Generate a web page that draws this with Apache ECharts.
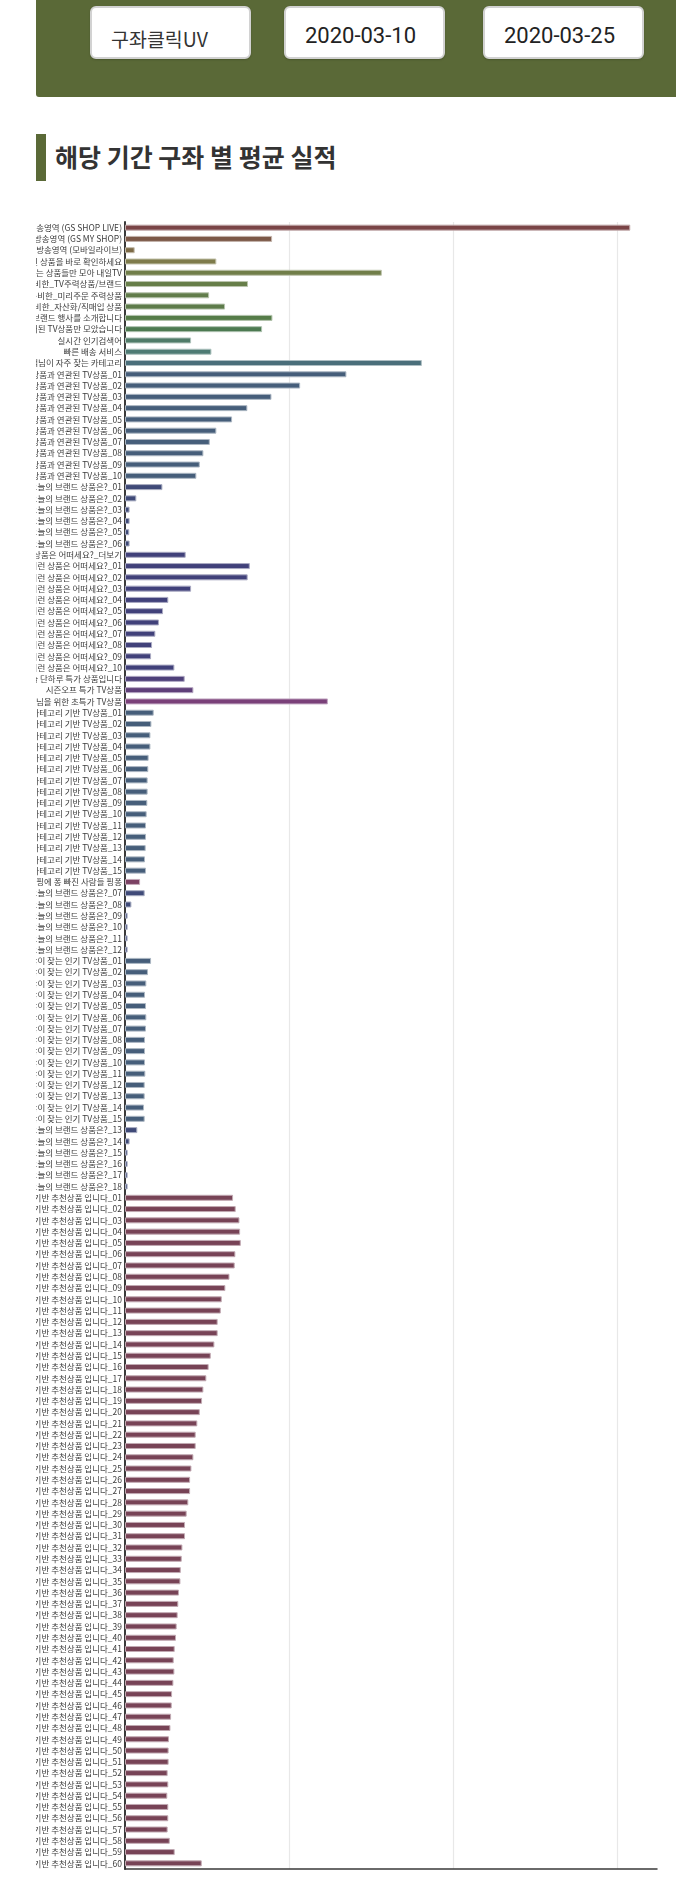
<!DOCTYPE html>
<html><head><meta charset="utf-8">
<script src="https://cdn.jsdelivr.net/npm/echarts@6.0.0/dist/echarts.min.js"></script>
<style>
html,body{margin:0;padding:0;background:#fff;width:676px;height:1896px;overflow:hidden;font-family:'Noto Sans CJK KR','Noto Sans',sans-serif;}
.hdr{position:absolute;left:36px;top:0;width:700px;height:97px;background:#5a6937;border-bottom-left-radius:3px;}
.box{position:absolute;top:6px;height:53px;width:161px;box-sizing:border-box;background:#fff;border:2px solid #d2d2d2;border-radius:6px;box-shadow:0 1px 2px rgba(0,0,0,.18);color:#222;}
.box span{position:absolute;white-space:nowrap;}
.b1 span{left:19px;top:20px;font-size:19.5px;line-height:22px;font-family:'Noto Sans CJK KR',sans-serif;color:#333;}
.bd span{left:0;right:8px;text-align:center;top:16px;font-size:22px;line-height:24px;font-family:Roboto,'Noto Sans',sans-serif;color:#222;}
.tbar{position:absolute;left:36px;top:134px;width:10px;height:47px;background:#5a6937;}
.title{position:absolute;left:55px;top:140px;font-size:25px;line-height:33px;font-weight:bold;color:#333;font-family:'Noto Sans CJK KR',sans-serif;white-space:nowrap;}
#chart{position:absolute;left:36px;top:200px;width:640px;height:1696px;}
</style></head>
<body>
<div class="hdr"></div>
<div class="box b1" style="left:90px"><span>구좌클릭UV</span></div>
<div class="box bd" style="left:284px"><span>2020-03-10</span></div>
<div class="box bd" style="left:483px"><span>2020-03-25</span></div>
<div class="tbar"></div>
<div class="title">해당 기간 구좌 별 평균 실적</div>
<div id="chart"></div>
<script>
function seq(prefix, from, to) {
  var out = [];
  for (var i = from; i <= to; i++) out.push(prefix + (i < 10 ? '0' + i : '' + i));
  return out;
}
// categories (top to bottom)
var topCategories = [
  '생방송영역 (GS SHOP LIVE)', '데이터방송영역 (GS MY SHOP)', '모바일 방송영역 (모바일라이브)',
  '지금 방송중인 상품을 바로 확인하세요', '내일 방송하는 상품들만 모아 내일TV',
  'MD가 준비한_TV주력상품/브랜드', 'MD가 준비한_미리주문 주력상품', 'MD가 준비한_자산화/직매입 상품',
  '오늘의 브랜드 행사를 소개합니다', '방송에서 소개된 TV상품만 모았습니다',
  '실시간 인기검색어', '빠른 배송 서비스', '고객님이 자주 찾는 카테고리'
];
var relatedTV = seq('최근 본 상품과 연관된 TV상품_', 1, 10);
var brandA = seq('오늘의 브랜드 상품은?_', 1, 6);
var recoMore = ['이런 상품은 어떠세요?_더보기'];
var reco = seq('이런 상품은 어떠세요?_', 1, 10);
var specials = ['오늘 단하루 특가 상품입니다', '시즌오프 특가 TV상품', '고객님을 위한 초특가 TV상품'];
var categoryTV = seq('카테고리 기반 TV상품_', 1, 15);
var pingpong = ['쇼핑에 퐁 빠진 사람들 핑퐁'];
var brandB = seq('오늘의 브랜드 상품은?_', 7, 12);
var popularTV = seq('많이 찾는 인기 TV상품_', 1, 15);
var brandC = seq('오늘의 브랜드 상품은?_', 13, 18);
var historyReco = seq('구매이력 기반 추천상품 입니다_', 1, 60);

// values
var topValues = [308.1, 89.7, 5.9, 55.7, 156.6, 75.0, 51.3, 61.0, 89.9, 83.6, 40.3, 52.7, 181.0];
var relatedTVValues = [135.0, 106.8, 89.3, 74.6, 65.3, 55.7, 51.7, 47.8, 45.6, 43.5];
var brandAValues = [22.8, 6.9, 2.8, 2.8, 2.6, 2.8];
var recoMoreValues = [37.0];
var recoValues = [76.1, 74.8, 40.3, 26.4, 23.2, 20.7, 18.5, 16.5, 15.9, 30.1];
var specialsValues = [36.4, 41.7, 123.7];
var categoryTVValues = [17.5, 16.1, 15.5, 15.5, 14.4, 14.2, 13.8, 13.8, 13.6, 13.2, 12.8, 12.8, 12.6, 12.2, 12.8];
var pingpongValues = [9.2];
var brandBValues = [12.0, 3.9, 1.6, 1.6, 1.6, 1.6];
var popularTVValues = [15.9, 14.0, 13.0, 12.2, 12.8, 13.0, 12.8, 12.2, 12.2, 12.2, 12.4, 12.0, 12.0, 11.6, 12.0];
var brandCValues = [7.5, 2.8, 1.6, 1.6, 1.6, 1.6];
var historyRecoValues = [
  65.9, 67.5, 69.8, 70.2, 70.6, 67.3, 66.9, 63.7, 61.2, 59.0,
  58.4, 56.5, 56.5, 54.5, 52.3, 51.0, 49.6, 47.8, 47.0, 45.6,
  44.1, 43.1, 43.1, 41.7, 40.5, 39.7, 39.7, 38.6, 37.6, 36.6,
  36.6, 35.0, 34.6, 34.0, 33.8, 32.9, 32.5, 32.1, 31.5, 31.1,
  30.3, 29.7, 30.1, 29.5, 28.7, 28.5, 28.1, 27.7, 26.8, 26.6,
  26.6, 26.0, 26.4, 25.8, 26.4, 26.4, 26.0, 27.3, 30.3, 46.8
];

// styles (colours per group)
var topColors = ['#7a4446', '#7c5847', '#7c6a46', '#7e7b4b', '#717e49', '#677e49', '#617c4a', '#5d7b4a', '#557c48', '#4d7a51', '#507c69', '#4e7b74', '#4a6e7a'];
var groups = [
  [topCategories, topValues, null],
  [relatedTV, relatedTVValues, '#465e7a'],
  [brandA, brandAValues, '#3f4a78'],
  [recoMore, recoMoreValues, '#41417a'],
  [reco, recoValues, '#41417a'],
  [specials, specialsValues, ['#4e4079', '#5f3f79', '#7a4079']],
  [categoryTV, categoryTVValues, '#465e7a'],
  [pingpong, pingpongValues, '#7b4163'],
  [brandB, brandBValues, '#3f4a78'],
  [popularTV, popularTVValues, '#465e7a'],
  [brandC, brandCValues, '#3f4a78'],
  [historyReco, historyRecoValues, '#774356']
];

var categories = [], values = [], colors = [];
groups.forEach(function (g) {
  g[0].forEach(function (c, i) {
    categories.push(c);
    values.push(g[1][i]);
    var col = g[2] === null ? topColors[i] : (Array.isArray(g[2]) ? g[2][i] : g[2]);
    colors.push(col);
  });
});
function lighten(hex, t) {
  var r = parseInt(hex.substr(1, 2), 16), g = parseInt(hex.substr(3, 2), 16), b = parseInt(hex.substr(5, 2), 16);
  r = Math.round(r + (255 - r) * t); g = Math.round(g + (255 - g) * t); b = Math.round(b + (255 - b) * t);
  return 'rgb(' + r + ',' + g + ',' + b + ')';
}

var chart = echarts.init(document.getElementById('chart'), null, { renderer: 'canvas' });
chart.setOption({
  animation: false,
  grid: { left: 89, right: 19, top: 22, bottom: 27, containLabel: false, outerBoundsMode: 'none' },
  xAxis: {
    type: 'value', min: 0, max: 324.4, interval: 100,
    axisLine: { show: true, lineStyle: { color: '#3a3a3a', width: 1.5 } },
    axisTick: { show: false },
    axisLabel: { show: false },
    splitLine: { show: true, showMinLine: false, showMaxLine: false, lineStyle: { color: '#e8e8e8', width: 1.2 } }
  },
  yAxis: {
    type: 'category', inverse: true, data: categories,
    axisLine: { show: true, lineStyle: { color: '#3a3a3a', width: 2 } },
    axisTick: { show: false },
    axisLabel: { interval: 0, margin: 3, fontSize: 8.5, color: '#3d3d3d', fontFamily: 'Noto Sans CJK KR' },
    splitLine: { show: false }
  },
  series: [{
    type: 'bar',
    data: values.map(function (v, i) {
      return { value: v, itemStyle: { color: colors[i], borderColor: lighten(colors[i], 0.55), borderWidth: 1 } };
    }),
    barWidth: 6
  }]
});
</script>
</body></html>
